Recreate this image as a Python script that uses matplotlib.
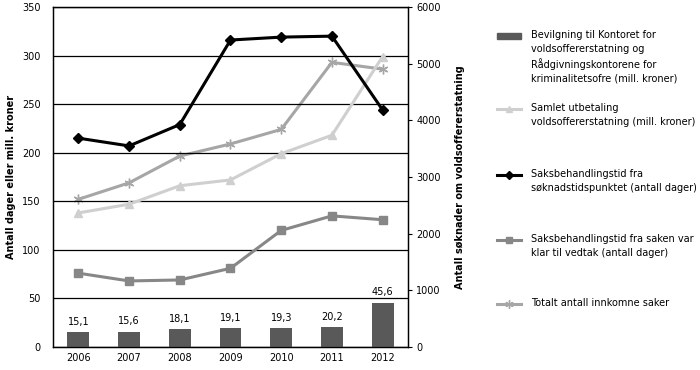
import numpy as np
import matplotlib
matplotlib.use('Agg')
import matplotlib.pyplot as plt
from matplotlib.lines import Line2D
from matplotlib.patches import Rectangle

# data
years      = ['2006', '2007', '2008', '2009', '2010', '2011', '2012']
bevilgning = [15.1, 15.6, 18.1, 19.1, 19.3, 20.2, 45.6]        # mill. kroner (left)
utbetaling = [138, 147, 166, 172, 199, 218, 299]                # mill. kroner (left)
tid_soknad = [215, 207, 229, 316, 319, 320, 244]                # dager (left)
tid_klar   = [76, 68, 69, 81, 120, 135, 131]                    # dager (left)
innkomne   = [2606, 2897, 3370, 3583, 3840, 5023, 4903]         # antall saker (right)
bar_labels = ['15,1', '15,6', '18,1', '19,1', '19,3', '20,2', '45,6']

legend_labels = [
    'Bevilgning til Kontoret for\nvoldsoffererstatning og\nRådgivningskontorene for\nkriminalitetsofre (mill. kroner)',
    'Samlet utbetaling\nvoldsoffererstatning (mill. kroner)',
    'Saksbehandlingstid fra\nsøknadstidspunktet (antall dager)',
    'Saksbehandlingstid fra saken var\nklar til vedtak (antall dager)',
    'Totalt antall innkomne saker',
]

plt.rcParams['font.family'] = ['DejaVu Sans']
FS = 7

c_bar  = '#595959'
c_tri  = '#cfcfcf'
c_dia  = '#000000'
c_sq   = '#878787'
c_star = '#a6a6a6'
star = (6, 2, 0)    # six-armed asterisk

W, H = 700, 370
fig = plt.figure(figsize=(W / 100, H / 100), dpi=100)
ax = fig.add_axes([53 / W, 1 - 347 / H, (408 - 53) / W, (347 - 7) / H])
ax2 = ax.twinx()

x = np.arange(len(years))

# gridlines
ax.set_ylim(0, 350)
ax.set_yticks(np.arange(0, 351, 50))
ax.yaxis.grid(True, color='black', linewidth=0.9)
ax.set_axisbelow(True)

ax.bar(x, bevilgning, width=0.43, color=c_bar, zorder=2)
for xi, v, lab in zip(x, bevilgning, bar_labels):
    ax.annotate(lab, (xi, v), xytext=(0, 4), textcoords='offset points',
                ha='center', va='bottom', fontsize=FS)

ax.plot(x, utbetaling, color=c_tri, linewidth=2.2, marker='^', markersize=6,
        zorder=3)
ax.plot(x, tid_klar, color=c_sq, linewidth=2.2, marker='s', markersize=5.5,
        zorder=3)
ax2.plot(x, innkomne, color=c_star, linewidth=2.2, marker=star, markersize=7,
         markeredgewidth=1.0, zorder=3)
ax.plot(x, tid_soknad, color=c_dia, linewidth=2.2, marker='D', markersize=5.5,
        zorder=4)

ax.set_zorder(ax2.get_zorder() + 1)
ax.patch.set_visible(False)

ax.set_xlim(-0.5, len(years) - 0.5)
ax.set_xticks(x)
ax.set_xticklabels(years, fontsize=FS)
ax.tick_params(axis='x', length=0, pad=4)
ax.tick_params(axis='y', labelsize=FS, length=0, pad=9)

ax2.set_ylim(0, 6000)
ax2.set_yticks(np.arange(0, 6001, 1000))
ax2.tick_params(axis='y', labelsize=FS, length=3, width=0.8, pad=3)

for a in (ax, ax2):
    for s in ('top', 'left', 'right', 'bottom'):
        a.spines[s].set_linewidth(0.9)

ax.set_ylabel('Antall dager eller mill. kroner', fontsize=FS, fontweight='bold',
              labelpad=4)
ax2.set_ylabel('Antall søknader om voldsoffererstatning', fontsize=FS,
               fontweight='bold', labelpad=10)

# legend, drawn by hand so the handle sits on the first line of each label
def fy(py):
    return 1 - py / H

hx0, hx1, tx = 497 / W, 521 / W, 531 / W
rows = [36, 109, 175, 240, 304]
styles = [None,
          dict(color=c_tri, marker='^', markersize=5),
          dict(color=c_dia, marker='D', markersize=4.5),
          dict(color=c_sq, marker='s', markersize=4.5),
          dict(color=c_star, marker=star, markersize=6, markeredgewidth=1.0)]
for py, sty, lab in zip(rows, styles, legend_labels):
    if sty is None:
        fig.add_artist(Rectangle((hx0, fy(py + 3)), hx1 - hx0, 6 / H,
                                 transform=fig.transFigure, color=c_bar))
    else:
        fig.add_artist(Line2D([hx0, (hx0 + hx1) / 2, hx1], [fy(py)] * 3,
                              transform=fig.transFigure, linewidth=2.2,
                              markevery=[1], **sty))
    fig.text(tx, fy(py - 6), lab, fontsize=FS, va='top', ha='left',
             linespacing=1.45)

fig.savefig('out.png', dpi=100)
